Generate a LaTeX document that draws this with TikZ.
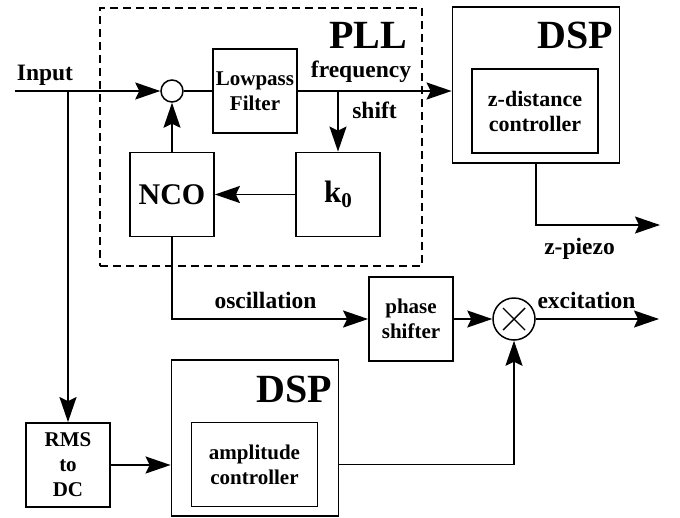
\documentclass[tikz,border=0pt]{standalone}
\usepackage{fontspec}
\setmainfont{Liberation Serif}
\usetikzlibrary{positioning,arrows.meta}

\begin{document}
\begin{tikzpicture}[
  x=1pt,y=-1pt,
  every node/.style={font=\bfseries,align=center,inner sep=0pt},
  blk/.style={draw,line width=1.8pt,minimum width=84pt,minimum height=84pt,font=\fontsize{21}{25}\selectfont\bfseries},
  dspbox/.style={draw,line width=1.8pt,minimum width=167pt,minimum height=156pt},
  ctrl/.style={draw,line width=1.8pt,minimum width=126pt,minimum height=84pt,font=\fontsize{21}{25}\selectfont\bfseries},
  pllframe/.style={draw,line width=1.8pt,dash pattern=on 8pt off 5pt,minimum width=322pt,minimum height=258pt},
  lbl/.style={font=\fontsize{23.5}{26}\selectfont\bfseries,anchor=base},
  title/.style={font=\fontsize{40}{40}\selectfont\bfseries,anchor=base east},
  junction/.style={circle,draw,line width=1.5pt,minimum size=22pt},
  mixer/.style={circle,draw,line width=1.5pt,minimum size=42pt},
  arr/.style={-{Stealth[length=25pt,width=17pt,inset=4pt]},line width=1.8pt},
  wire/.style={line width=1.8pt}
]
  \useasboundingbox (0,0) rectangle (680,517);

  \node[pllframe] (pll) at (261,137) {};
  \node[title] (plltitle) at (407,48) {PLL};
  \node[junction] (sum) at (172,91) {};
  \node[blk] (lpf) at (255,91) {Lowpass\\Filter};
  \node[blk,font=\fontsize{30}{30}\selectfont\bfseries] (nco) at (172,194.5) {NCO};
  \node[blk,font=\fontsize{31}{31}\selectfont\bfseries] (kzero) at (338,194.5) {k\raisebox{-5pt}{\fontsize{21}{21}\selectfont 0}};

  \node[dspbox] (dspz) at (536,85) {};
  \node[title] (dspztitle) at (613,48) {DSP};
  \node[ctrl,font=\fontsize{22}{25}\selectfont\bfseries] (zdist) at (535,111) {z-distance\\controller};

  \node[blk] (phase) at (411,319) {phase\\shifter};
  \node[mixer] (mult) at (514,319) {};
  \draw[line width=1.4pt] (mult.center) +(-11,-11) -- +(11,11);
  \draw[line width=1.4pt] (mult.center) +(-11,11) -- +(11,-11);

  \node[blk] (rms) at (68,465) {RMS\\to\\DC};
  \node[dspbox] (dspa) at (255,438) {};
  \node[title] (dspatitle) at (332,402) {DSP};
  \node[ctrl] (ampl) at (254.5,464.5) {amplitude\\controller};

  \coordinate (in) at (15,91);
  \coordinate (tap) at (68,91);
  \coordinate (split) at (338,91);
  \coordinate (zout) at (660,225);
  \coordinate (excout) at (659,319);

  \node[lbl] (inlbl) at (45,80) {Input};
  \node[lbl] (freqlbl) at (361,77) {frequency};
  \node[lbl] (shiftlbl) at (374.5,118) {shift};
  \node[lbl] (zlbl) at (579.5,254) {z-piezo};
  \node[lbl] (osclbl) at (265.5,308) {oscillation};
  \node[lbl] (exclbl) at (586.5,308) {excitation};

  \draw[arr] (in) -- (sum);
  \draw[wire] (sum) -- (lpf);
  \draw[arr] (lpf.east) -- (lpf.east -| dspz.west);
  \draw[arr] (split) -- (kzero);
  \draw[arr] (kzero) -- (nco);
  \draw[arr] (nco) -- (sum);
  \draw[arr] (dspz.south) |- (zout);
  \draw[arr] (nco.south) |- (phase.west);
  \draw[arr] (phase) -- (mult);
  \draw[arr] (mult) -- (excout);
  \draw[arr] (tap) -- (rms);
  \draw[arr] (rms.east) -- (rms.east -| dspa.west);
  \draw[arr] (dspa.east |- ampl) -| (mult.south);
\end{tikzpicture}
\end{document}
